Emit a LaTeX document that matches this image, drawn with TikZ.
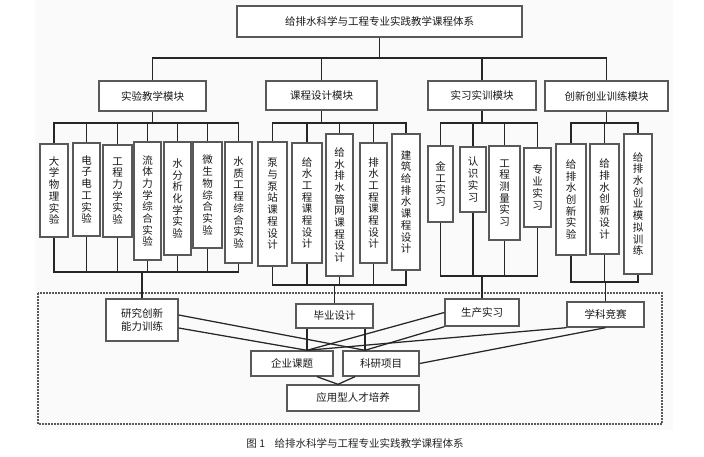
\documentclass[tikz,border=0pt]{standalone}
\usepackage{fontspec}
\setmainfont{Noto Sans CJK SC}
\tikzset{
  conn/.style={line width=1.25pt, draw=black!85},
  box/.style={draw=black!65, line width=1.4pt, fill=white, inner sep=0pt, align=center,
    font=\fontsize{10.5}{13}\selectfont, text=black!90},
  vbox/.style={box, font=\fontsize{10.5}{11.7}\selectfont},
  frame/.style={draw=black!65, line width=1.7pt, dash pattern=on 1.6pt off 1.4pt},
}
\newcommand\mkbox[7][box]{\node[#1, minimum width={#4-#3}, minimum height={#6-#5}] (#2) at ({(#3+#4)/2},{(#5+#6)/2}) {#7};}
\begin{document}
\begin{tikzpicture}[x=1pt,y=-1pt]
\useasboundingbox (0,0) rectangle (704,457);
\fill[black!2] (35,0) rectangle (673,430);
% title and modules
\mkbox{title}{237}{522}{6}{37}{给排水科学与工程专业实践教学课程体系}
\mkbox{m1}{99}{206}{81}{111}{实验教学模块}
\mkbox{m2}{266}{377}{81}{110}{课程设计模块}
\mkbox{m3}{428}{536}{81}{110}{实习实训模块}
\mkbox{m4}{545}{668}{81}{111}{创新创业训练模块}
% lab boxes
\mkbox[vbox]{a1}{40}{68}{144}{237}{大\\学\\物\\理\\实\\验}
\mkbox[vbox]{a2}{73}{100}{143}{236}{电\\子\\电\\工\\实\\验}
\mkbox[vbox]{a3}{103}{132}{145}{237}{工\\程\\力\\学\\实\\验}
\mkbox[vbox]{a4}{134}{161}{142}{260}{流\\体\\力\\学\\综\\合\\实\\验}
\mkbox[vbox]{a5}{164}{191}{142}{255}{水\\分\\析\\化\\学\\实\\验}
\mkbox[vbox]{a6}{193}{222}{142}{248}{微\\生\\物\\综\\合\\实\\验}
\mkbox[vbox]{a7}{225}{252}{142}{263}{水\\质\\工\\程\\综\\合\\实\\验}
% course design boxes
\mkbox[vbox]{c1}{258}{287}{142}{266}{泵\\与\\泵\\站\\课\\程\\设\\计}
\mkbox[vbox]{c2}{292}{322}{143}{263}{给\\水\\工\\程\\课\\程\\设\\计}
\mkbox[vbox]{c3}{326}{353}{134}{276}{给\\水\\排\\水\\管\\网\\课\\程\\设\\计}
\mkbox[vbox]{c4}{360}{387}{143}{263}{排\\水\\工\\程\\课\\程\\设\\计}
\mkbox[vbox]{c5}{392}{420}{134}{270}{建\\筑\\给\\排\\水\\课\\程\\设\\计}
% practice boxes
\mkbox[vbox]{p1}{428}{453}{146}{222}{金\\工\\实\\习}
\mkbox[vbox]{p2}{460}{486}{147}{212}{认\\识\\实\\习}
\mkbox[vbox]{p3}{489}{520}{146}{240}{工\\程\\测\\量\\实\\习}
\mkbox[vbox]{p4}{524}{551}{148}{227}{专\\业\\实\\习}
% innovation boxes
\mkbox[vbox]{i1}{556}{586}{144}{255}{给\\排\\水\\创\\新\\实\\验}
\mkbox[vbox]{i2}{590}{619}{144}{254}{给\\排\\水\\创\\新\\设\\计}
\mkbox[vbox]{i3}{624}{652}{134}{274}{给\\排\\水\\创\\业\\模\\拟\\训\\练}
% lower area
\draw[frame] (38,293) rectangle (662,424);
\mkbox{r1}{106}{178}{299}{341}{研究创新\\能力训练}
\mkbox{r2}{296}{373}{304}{328}{毕业设计}
\mkbox{r3}{445}{519}{299}{326}{生产实习}
\mkbox{r4}{567}{644}{302}{327}{学科竞赛}
\mkbox{q1}{251}{333}{351}{376}{企业课题}
\mkbox{q2}{343}{419}{351}{376}{科研项目}
\mkbox{z}{287}{419}{385}{411}{应用型人才培养}
\node[font=\fontsize{10.5}{12}\selectfont, text=black!85] (cap) at (355,443) {图 1\hspace{0.9em}给排水科学与工程专业实践教学课程体系};
% bus coordinates
\coordinate (b0) at (0,58);
\coordinate (bt) at (0,123);
\coordinate (ba) at (0,272);
\coordinate (bc) at (0,285);
\coordinate (bp) at (0,276);
\coordinate (bi) at (0,282);
% top tree
\draw[conn] (title.south) -- (title.south |- b0);
\draw[conn] (m1.north) -- (m1.north |- b0) -- (m4.north |- b0) -- (m4.north);
\draw[conn] (m2.north) -- (m2.north |- b0);
\draw[conn] (m3.north) -- (m3.north |- b0);
% lab group
\draw[conn] (m1.south) -- (m1.south |- bt);
\draw[conn] (a1.north) -- (a1.north |- bt) -- (a7.north |- bt) -- (a7.north);
\foreach \n in {a2,a3,a4,a5,a6} \draw[conn] (\n.north) -- (\n.north |- bt);
\draw[conn] (a1.south) -- (a1.south |- ba) -- (a7.south |- ba) -- (a7.south);
\foreach \n in {a2,a3,a4,a5,a6} \draw[conn] (\n.south) -- (\n.south |- ba);
\draw[conn] (r1.north) -- (r1.north |- ba);
% course design group
\draw[conn] (m2.south) -- (m2.south |- bt);
\draw[conn] (c1.north) -- (c1.north |- bt) -- (c5.north |- bt) -- (c5.north);
\foreach \n in {c2,c3,c4} \draw[conn] (\n.north) -- (\n.north |- bt);
\draw[conn] (c1.south) -- (c1.south |- bc) -- (c5.south |- bc) -- (c5.south);
\foreach \n in {c2,c3,c4} \draw[conn] (\n.south) -- (\n.south |- bc);
\draw[conn] (r2.north) -- (r2.north |- bc);
% practice group
\draw[conn] (m3.south) -- (m3.south |- bt);
\draw[conn] (p1.north) -- (p1.north |- bt) -- (p4.north |- bt) -- (p4.north);
\foreach \n in {p2,p3} \draw[conn] (\n.north) -- (\n.north |- bt);
\draw[conn] (p1.south) -- (p1.south |- bp) -- (p4.south |- bp) -- (p4.south);
\foreach \n in {p2,p3} \draw[conn] (\n.south) -- (\n.south |- bp);
\draw[conn] (r3.north) -- (r3.north |- bp);
% innovation group
\draw[conn] (m4.south) -- (m4.south |- bt);
\draw[conn] (i1.north) -- (i1.north |- bt) -- (i3.north |- bt) -- (i3.north);
\draw[conn] (i2.north) -- (i2.north |- bt);
\draw[conn] (i1.south) -- (i1.south |- bi) -- (i3.south |- bi) -- (i3.south);
\draw[conn] (i2.south) -- (i2.south |- bi);
\draw[conn] (r4.north) -- (r4.north |- bi);
% lower connectors
\coordinate (q1p) at ([xshift=15pt]q1.north);
\coordinate (q2p) at ([xshift=-16pt]q2.north);
\coordinate (zp) at ([xshift=-15pt]z.north);
\draw[conn] ([yshift=5pt]r1.east) -- (q2p);
\draw[conn] ([yshift=-8pt]r1.east) -- (q1p);
\draw[conn] (q1p |- r2.south) -- (q1p);
\draw[conn] (q2p |- r2.south) -- (q2p);
\draw[conn] (r3.west) -- (q1p);
\draw[conn] (r3.south west) -- (q2p);
\draw[conn] (r4.south west) -- (q1p);
\draw[conn] (r4.south) -- (q2.east);
\draw[conn] ([xshift=25pt]q1.south) -- (zp);
\draw[conn] ([xshift=-26pt]q2.south) -- (zp);
\end{tikzpicture}
\end{document}
